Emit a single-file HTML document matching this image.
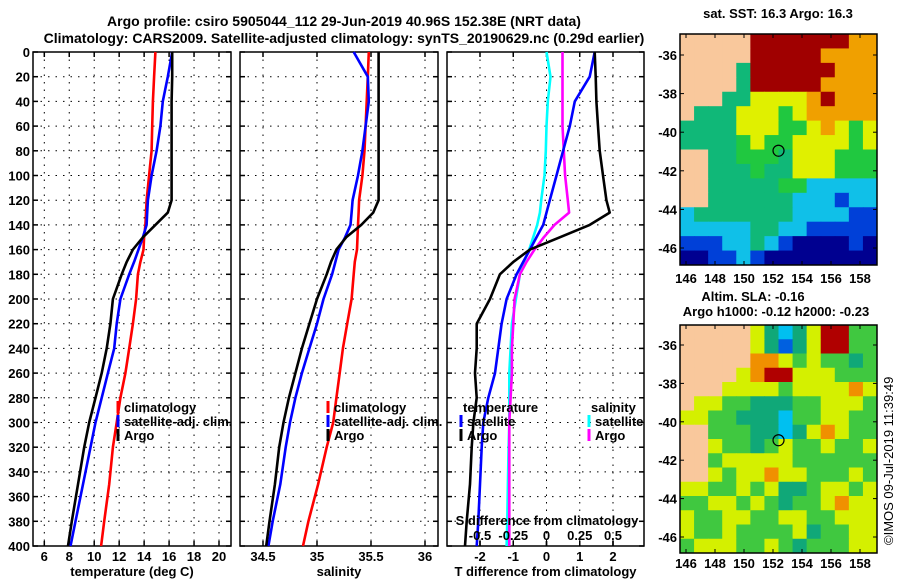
<!DOCTYPE html>
<html><head><meta charset="utf-8">
<style>
html,body{margin:0;padding:0;background:#fff;}
svg{display:block;font-family:"Liberation Sans",Arial,sans-serif;font-weight:bold;}
</style></head>
<body>
<svg id="fig" width="900" height="580" viewBox="0 0 900 580" xmlns="http://www.w3.org/2000/svg">
<text x="344" y="26" font-size="14" text-anchor="middle">Argo profile: csiro 5905044_112 29-Jun-2019 40.96S 152.38E (NRT data)</text>
<text x="344" y="43" font-size="14" text-anchor="middle">Climatology: CARS2009. Satellite-adjusted climatology: synTS_20190629.nc (0.29d earlier)</text>
<g id="plots"></g>
<g id="maps"></g>
<text transform="translate(893,545) rotate(-90)" font-size="13" font-weight="normal">©IMOS 09-Jul-2019 11:39:49</text>
</svg>
<script>
// ---- data ----
const depths = [0,20,40,60,80,100,120,130,140,150,160,170,180,200,220,240,260,280,300,320,350,380,400];
const tClim = [14.9,14.8,14.7,14.65,14.6,14.4,14.2,14.15,14.1,14.0,13.95,13.7,13.5,13.36,13.1,12.8,12.5,12.1,11.8,11.5,11.2,10.8,10.55];
const tSat  = [16.25,15.9,15.5,15.3,15.0,14.6,14.3,14.25,14.2,13.9,13.55,13.2,12.8,12.1,11.8,11.6,11.1,10.6,10.1,9.7,9.1,8.5,8.1];
const tArgo = [16.25,16.25,16.2,16.2,16.2,16.2,16.2,15.9,14.9,13.9,13.1,12.6,12.2,11.5,11.3,11.0,10.6,10.1,9.6,9.2,8.7,8.2,7.9];
const sClim = [35.48,35.47,35.46,35.45,35.44,35.42,35.39,35.385,35.38,35.375,35.37,35.35,35.34,35.32,35.28,35.24,35.21,35.18,35.15,35.09,35.01,34.92,34.87];
const sSat  = [35.34,35.47,35.48,35.45,35.42,35.38,35.33,35.32,35.31,35.26,35.2,35.17,35.14,35.06,35.0,34.93,34.86,34.8,34.75,34.71,34.66,34.59,34.55];
const sArgo = [35.57,35.57,35.57,35.57,35.57,35.57,35.57,35.52,35.41,35.27,35.18,35.13,35.09,35.0,34.93,34.86,34.8,34.74,34.69,34.65,34.61,34.56,34.53];
const dtSat  = [1.45,1.3,0.85,0.7,0.5,0.3,0.1,0.0,-0.1,-0.3,-0.5,-0.7,-0.9,-1.2,-1.35,-1.45,-1.55,-1.75,-1.9,-1.95,-2.0,-2.05,-2.1];
const dtArgo = [1.45,1.48,1.5,1.55,1.6,1.7,1.8,1.9,1.3,0.4,-0.5,-1.0,-1.4,-1.7,-2.1,-2.1,-2.15,-2.1,-2.2,-2.25,-2.3,-2.4,-2.45];
const dsSat  = [0.0,0.03,0.01,0.0,-0.005,-0.015,-0.04,-0.05,-0.07,-0.1,-0.13,-0.17,-0.2,-0.23,-0.26,-0.27,-0.28,-0.28,-0.28,-0.285,-0.29,-0.295,-0.3];
const dsArgo = [0.12,0.12,0.12,0.12,0.13,0.14,0.16,0.17,0.06,-0.02,-0.09,-0.15,-0.2,-0.24,-0.25,-0.26,-0.26,-0.27,-0.28,-0.28,-0.28,-0.28,-0.28];
const depthTicks = [0,20,40,60,80,100,120,140,160,180,200,220,240,260,280,300,320,340,360,380,400];
const tTicks = [6,8,10,12,14,16,18,20];
const sTicks = [34.5,35,35.5,36];
const dTicks = [-2,-1,0,1,2];
const dsTicks = [-0.5,-0.25,0,0.25,0.5];
const dsTickLabels = ["-0.5","-0.25","0","0.25","0.5"];

const NS="http://www.w3.org/2000/svg";
const plots=document.getElementById('plots');
function mk(tag,attrs,parent){const e=document.createElementNS(NS,tag);for(const k in attrs)e.setAttribute(k,attrs[k]);(parent||plots).appendChild(e);return e;}
const yTop=52,yBot=546;
const yS=d=>yTop+(d/400)*(yBot-yTop);
function lin(d0,d1,r0,r1){return v=>r0+(v-d0)/(d1-d0)*(r1-r0);}

const panels=[
 {name:'temperature',x0:33,x1:231,sx:lin(6,20,44.3,219),ticks:tTicks,labels:tTicks.map(String),title:'temperature (deg C)'},
 {name:'salinity',x0:240,x1:438,sx:lin(34.5,36,263,425),ticks:sTicks,labels:["34.5","35","35.5","36"],title:'salinity'},
 {name:'t-difference',x0:447,x1:644,sx:lin(-2,2,480,613),ticks:dTicks,labels:dTicks.map(String),title:'T difference from climatology'}
];
panels.forEach((p,pi)=>{
  const g=mk('g',{});
  
  
  depthTicks.forEach(d=>{const y=yS(d);
    const l=mk('line',{x1:p.x0,x2:p.x1,y1:y,y2:y,stroke:'#000','stroke-width':1,'stroke-dasharray':'1.5,6'},g);
     
    mk('line',{x1:p.x0,x2:p.x0+5,y1:y,y2:y,stroke:'#000','stroke-width':1.5},g);
    mk('line',{x1:p.x1-5,x2:p.x1,y1:y,y2:y,stroke:'#000','stroke-width':1.5},g);
  });
  p.ticks.forEach((t,i)=>{const x=p.sx(t);
    const l=mk('line',{x1:x,x2:x,y1:yTop,y2:yBot,stroke:'#000','stroke-width':1,'stroke-dasharray':'1.5,6'},g);
     
    mk('line',{x1:x,x2:x,y1:yBot-5,y2:yBot,stroke:'#000','stroke-width':1.5},g);
    mk('line',{x1:x,x2:x,y1:yTop,y2:yTop+5,stroke:'#000','stroke-width':1.5},g);
    const tx=mk('text',{x:x,y:561,'font-size':13,'text-anchor':'middle'},g);
     
    tx.textContent=p.labels[i];
  });
  const bx=mk('rect',{x:p.x0,y:yTop,width:p.x1-p.x0,height:yBot-yTop,fill:'none',stroke:'#000','stroke-width':1.5},g);
   
  const tt=mk('text',{x:(p.x0+p.x1)/2,y:576,'font-size':13,'text-anchor':'middle'},g);
   
  tt.textContent=p.title;
});
depthTicks.forEach(d=>{const t=mk('text',{x:30,y:yS(d)+5,'font-size':13,'text-anchor':'end'});
    t.textContent=String(d);});

function series(vals,sx,color,name){
  const pts=vals.map((v,i)=>sx(v).toFixed(1)+','+yS(depths[i]).toFixed(1)).join(' ');
  const l=mk('polyline',{points:pts,fill:'none',stroke:color,'stroke-width':2.6,'stroke-linejoin':'round'});
   
}
const P=panels;
series(tClim,P[0].sx,'#ff0000','temp-climatology-line');
series(tSat,P[0].sx,'#0000ff','temp-satellite-line');
series(tArgo,P[0].sx,'#000','temp-argo-line');
series(sClim,P[1].sx,'#ff0000','sal-climatology-line');
series(sSat,P[1].sx,'#0000ff','sal-satellite-line');
series(sArgo,P[1].sx,'#000','sal-argo-line');
const sxS=v=>P[2].sx(v*4);
series(dsSat,sxS,'#00ffff','sdiff-satellite-line');
series(dsArgo,sxS,'#ff00ff','sdiff-argo-line');
series(dtSat,P[2].sx,'#0000ff','tdiff-satellite-line');
series(dtArgo,P[2].sx,'#000','tdiff-argo-line');

const sdt=mk('text',{x:547,y:525,'font-size':13,'text-anchor':'middle'});
 
sdt.textContent='S difference from climatology';
dsTicks.forEach((t,i)=>{const x=sxS(t);
  const tx=mk('text',{x:x,y:540,'font-size':13,'text-anchor':'middle'});
   
  tx.textContent=dsTickLabels[i];
  mk('line',{x1:x,x2:x,y1:yBot-5,y2:yBot,stroke:'#000','stroke-width':1.5});
});

function legend(x,y,items,name,head){
  const g=mk('g',{});
   
  let yy=y;
  if(head){const h=mk('text',{x:x+2,y:yy+5,'font-size':13},g);h.textContent=head;yy+=14;}
  items.forEach(it=>{
    mk('line',{x1:x,x2:x,y1:yy-6,y2:yy+6,stroke:it[1],'stroke-width':3},g);
    const t=mk('text',{x:x+6,y:yy+5,'font-size':13},g);
     
    t.textContent=it[0]; yy+=14;
  });
}
legend(118,407,[['climatology','#f00'],['satellite-adj. clim.','#00f'],['Argo','#000']],'temp-legend');
legend(328,407,[['climatology','#f00'],['satellite-adj. clim.','#00f'],['Argo','#000']],'sal-legend');
legend(461,407,[['satellite','#00f'],['Argo','#000']],'tdiff-legend','temperature');
legend(589,407,[['satellite','#0ff'],['Argo','#f0f']],'sdiff-legend','salinity');

// ---- maps ----
const maps=document.getElementById('maps');
const pal={L:'#f9c89c',R:'#a00000',O:'#f0a000',Y:'#e0f000',G:'#20c840',T:'#10b878',C:'#10c0e8',B:'#0040d8',N:'#000090'};
const pal2={L:'#f9c89c',R:'#b00000',O:'#f09000',Y:'#d4f000',G:'#40c840',T:'#10a878',C:'#00c0f0',B:'#0060e0',N:'#000090'};
const sstGrid=["LLLLLRRRRRRROO","LLLLLRRRRROOOO","LLLLTRRRRRROOO","LLLLTRRRRROOOO","LLLTTYYYYOROOO","LTTTYYYGYOOOOO","TTTTYYYGGYOYGY","TTTTGYGGYYYYGY","LLTTGGGTYYYGGG","LLTTTGTTYYYGGG","LLTTTTTGGCCCCC","LLTTTTTTCCCBCC","CTTTTTTTCCCCBB","CCCCCTTCCBBBBB","BBBCCTCBNNNNBN","NNBBCBNNNNNNNN"];
const slaGrid=["LLLLLYTCTYRRGG","LLLLLYTBTYRRGG","LLLLLOOYGYGGTG","LLLLYORRYYYGGG","LLLYYYYGYYYYOY","LYYGGTTTGGYYYG","YYGGTTTCGGYYGG","LLGGGTTCTYOYGG","LLYGGTGYGGYGGY","LLGYYYYYGGGGGG","LLYGYYOYYGGGYG","YYGGYGYTTGYYGY","GGYYGYGTGGYOYY","YGGYYGGYYGGYYY","YGGYGGGGYTGGYY","GYYYGGYGTGGGYY"];
function drawMap(grid,p,x0,y0,w,h,name,latY36,latY46,lblY){
  const g=document.createElementNS(NS,'g');maps.appendChild(g);
   
  const rows=grid.length,cols=grid[0].length,cw=w/cols,ch=h/rows;
  grid.forEach((r,ri)=>{[...r].forEach((c,ci)=>{mk('rect',{x:x0+ci*cw,y:y0+ri*ch,width:cw+0.5,height:ch+0.5,fill:p[c]},g);});});
  mk('rect',{x:x0,y:y0,width:w,height:h,fill:'none',stroke:'#000','stroke-width':1.5},g);
  const lonX=lin(146,158,686,860);
  [146,148,150,152,154,156,158].forEach(l=>{const x=lonX(l);
    mk('line',{x1:x,x2:x,y1:y0+h-4,y2:y0+h,stroke:'#000'},g);
    mk('line',{x1:x,x2:x,y1:y0,y2:y0+4,stroke:'#000'},g);
    const t=mk('text',{x:x,y:lblY,'font-size':13,'text-anchor':'middle'},g);t.textContent=String(l);});
  const latY=lin(-36,-46,latY36,latY46);
  [-36,-38,-40,-42,-44,-46].forEach(l=>{const y=latY(l);
    mk('line',{x1:x0,x2:x0+4,y1:y,y2:y,stroke:'#000'},g);
    mk('line',{x1:x0+w-4,x2:x0+w,y1:y,y2:y,stroke:'#000'},g);
    const t=mk('text',{x:x0-3,y:y+5,'font-size':13,'text-anchor':'end'},g);t.textContent=String(l);});
  const c=mk('circle',{cx:lonX(152.38),cy:latY(-40.96),r:5.5,fill:'none',stroke:'#000','stroke-width':1.2},g);
   
}
drawMap(sstGrid,pal,680,34,197,231,'sst-map',55,248,283);
drawMap(slaGrid,pal2,680,325,197,228,'sla-map',345,537,568);
function mt(x,y,s,n){const t=mk('text',{x:x,y:y,'font-size':13,'text-anchor':'middle'});t.textContent=s;}
mt(778,18,'sat. SST: 16.3 Argo: 16.3','sst-map-title');
mt(753,301,'Altim. SLA: -0.16','sla-map-title');
mt(776,316,'Argo h1000: -0.12 h2000: -0.23','sla-map-subtitle');
</script>
</body></html>
